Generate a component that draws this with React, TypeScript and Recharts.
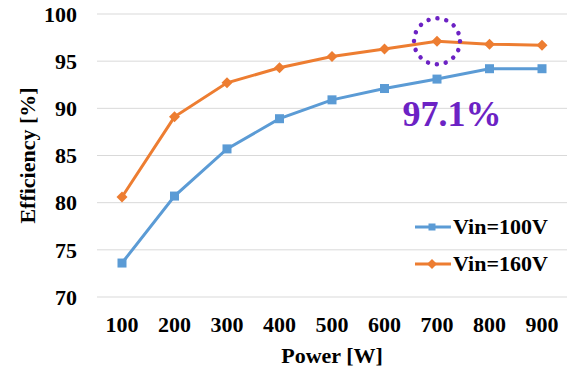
import React from "react"
import { LineChart, Line, XAxis, YAxis, CartesianGrid, Legend, ReferenceDot } from "recharts"

// power levels on the x axis
const powers = ["100", "200", "300", "400", "500", "600", "700", "800", "900"]
// efficiency in percent
const vin100 = [73.6, 80.7, 85.7, 88.9, 90.9, 92.1, 93.1, 94.2, 94.2]
const vin160 = [80.6, 89.1, 92.7, 94.3, 95.5, 96.3, 97.1, 96.8, 96.7]
const yTicks = [70, 75, 80, 85, 90, 95, 100]

const peakPower = "700"
const peakValue = 97.1
const peakText = "97.1%"
const peakTextValue = 89.4

const BLUE = "#5B9BD5"
const ORANGE = "#ED7D31"
const PURPLE = "#6C22C4"
const FONT = "Liberation Serif, DejaVu Serif, serif"

const data = powers.map((p, i) => ({ power: p, v100: vin100[i], v160: vin160[i] }))

const SquareDot = (props: any) => {
  const { cx, cy, index } = props
  return <rect key={`sq-${index}`} x={cx - 4.5} y={cy - 4.5} width={9} height={9} fill={BLUE} />
}

const DiamondDot = (props: any) => {
  const { cx, cy, index } = props
  const r = 5.5
  return (
    <polygon
      key={`dm-${index}`}
      points={`${cx},${cy - r} ${cx + r},${cy} ${cx},${cy + r} ${cx - r},${cy}`}
      fill={ORANGE}
    />
  )
}

const tickStyle = { fontFamily: FONT, fontSize: 22, fontWeight: 700, fill: "#000" }

const YTitle = (props: any) => {
  const vb = props.viewBox
  const cx = vb.x + 27
  const cy = vb.y + vb.height / 2
  return (
    <text
      x={cx}
      y={cy}
      transform={`rotate(-90 ${cx} ${cy})`}
      textAnchor="middle"
      dominantBaseline="central"
      fontFamily={FONT}
      fontSize={22}
      fontWeight={700}
      fill="#000"
    >
      Efficiency [%]
    </text>
  )
}

const PeakLabel = (props: any) => {
  const vb = props.viewBox
  const x = vb.x + vb.width / 2 + 15
  const y = vb.y + vb.height / 2
  return (
    <text x={x} y={y} textAnchor="middle" dominantBaseline="central"
      fontFamily={FONT} fontSize={36} fontWeight={700} fill={PURPLE}>
      {peakText}
    </text>
  )
}

const renderLegend = () => {
  const items = [
    { name: "Vin=100V", color: BLUE, shape: "square" },
    { name: "Vin=160V", color: ORANGE, shape: "diamond" },
  ]
  return (
    <div>
      {items.map((it) => (
        <div key={it.name} style={{ display: "flex", alignItems: "center", height: 37 }}>
          <svg width={37} height={20}>
            <line x1={0} y1={10} x2={36} y2={10} stroke={it.color} strokeWidth={3} />
            {it.shape === "square" ? (
              <rect x={13.5} y={6.5} width={7} height={7} fill={it.color} />
            ) : (
              <polygon points="17,5 22,10 17,15 12,10" fill={it.color} />
            )}
          </svg>
          <span style={{ fontFamily: FONT, fontSize: 22, fontWeight: 700, color: "#000", marginLeft: 1, lineHeight: "22px" }}>
            {it.name}
          </span>
        </div>
      ))}
    </div>
  )
}

export default function App() {
  return (
    <div style={{ position: "absolute", left: 0, top: 0, width: 571, height: 371, background: "#fff", fontFamily: FONT }}>
      <LineChart width={571} height={371} data={data} margin={{ top: 14, right: 4, left: 0, bottom: 0 }}
        style={{ fontFamily: FONT }}>
        <CartesianGrid vertical={false} stroke="#D9D9D9" strokeWidth={1} />
        <XAxis
          dataKey="power"
          axisLine={false}
          tickLine={false}
          tickSize={0}
          tickMargin={19}
          height={74}
          padding={{ left: 25, right: 25 }}
          tick={tickStyle}
          label={{ value: "Power [W]", position: "insideBottom", offset: 8, fontFamily: FONT, fontSize: 22, fontWeight: 700, fill: "#000" }}
        />
        <YAxis
          domain={[70, 100]}
          ticks={yTicks}
          axisLine={false}
          tickLine={false}
          tickSize={0}
          tickMargin={20}
          width={97}
          tick={tickStyle}
          label={{ content: YTitle }}
        />
        <Legend
          layout="horizontal"
          align="center"
          verticalAlign="middle"
          content={renderLegend}
          wrapperStyle={{ left: 415, top: 208, width: 156 }}
        />
        <Line
          type="linear"
          dataKey="v100"
          name="Vin=100V"
          stroke={BLUE}
          strokeWidth={3}
          dot={SquareDot}
          isAnimationActive={false}
        />
        <Line
          type="linear"
          dataKey="v160"
          name="Vin=160V"
          stroke={ORANGE}
          strokeWidth={3}
          dot={DiamondDot}
          isAnimationActive={false}
        />
        <ReferenceDot
          x={peakPower}
          y={peakValue}
          r={23}
          fill="none"
          stroke={PURPLE}
          strokeWidth={4.5}
          strokeDasharray="0.01 9"
          strokeLinecap="round"
        />
        <ReferenceDot
          x={peakPower}
          y={peakTextValue}
          r={0}
          fill="none"
          stroke="none"
          label={{ content: PeakLabel }}
        />
      </LineChart>
    </div>
  )
}
